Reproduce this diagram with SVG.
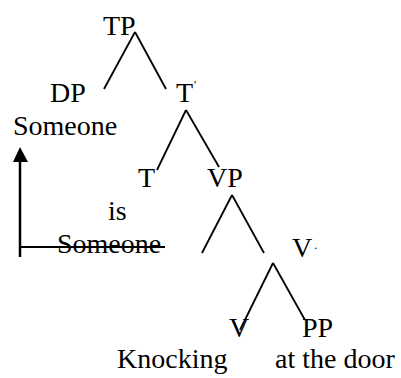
<svg xmlns="http://www.w3.org/2000/svg" width="401" height="378" viewBox="0 0 401 378">
<rect width="401" height="378" fill="#fff"/>
<g id="connectors" stroke="#000" fill="none" stroke-width="1.8">
<line x1="135" y1="32" x2="104" y2="89"/>
<line x1="135" y1="32" x2="166" y2="89"/>
<line x1="186" y1="110" x2="157" y2="170"/>
<line x1="186" y1="110" x2="219" y2="167"/>
<line x1="232" y1="195" x2="202" y2="253"/>
<line x1="232" y1="195" x2="264" y2="253"/>
<line x1="273" y1="263" x2="240" y2="330"/>
<line x1="273" y1="263" x2="305" y2="320"/>
<line stroke-width="2.5" x1="20" y1="257" x2="20" y2="160"/>
<polygon points="20,147 13,162 28,162" fill="#000" stroke="none"/>
<line stroke-width="2" x1="20" y1="247" x2="165" y2="247"/>
</g>
<text id="TP" x="103" y="35" font-family="Liberation Serif" font-size="28">TP</text>
<text id="DP" x="50" y="102" font-family="Liberation Serif" font-size="28">DP</text>
<text id="Tbar" x="176" y="102" font-family="Liberation Serif" font-size="28">T<tspan font-size="12" dx="1" dy="-13">'</tspan></text>
<text id="Someone" x="13" y="135" font-family="Liberation Serif" font-size="28">Someone</text>
<text id="T" x="138" y="187" font-family="Liberation Serif" font-size="28">T</text>
<text id="VP" x="207" y="187" font-family="Liberation Serif" font-size="28">VP</text>
<text id="is" x="108" y="220" font-family="Liberation Serif" font-size="28">is</text>
<text id="Someone-trace" x="57" y="253" font-family="Liberation Serif" font-size="28">Someone</text>
<text id="Vbar" x="292" y="257" font-family="Liberation Serif" font-size="28">V<tspan font-size="12" dx="2" dy="-8">.</tspan></text>
<text id="V" x="229" y="337" font-family="Liberation Serif" font-size="28">V</text>
<text id="PP" x="302" y="337" font-family="Liberation Serif" font-size="28">PP</text>
<text id="Knocking" x="117" y="368" font-family="Liberation Serif" font-size="28">Knocking</text>
<text id="atthedoor" x="275" y="368" font-family="Liberation Serif" font-size="28">at the door</text>
</svg>
